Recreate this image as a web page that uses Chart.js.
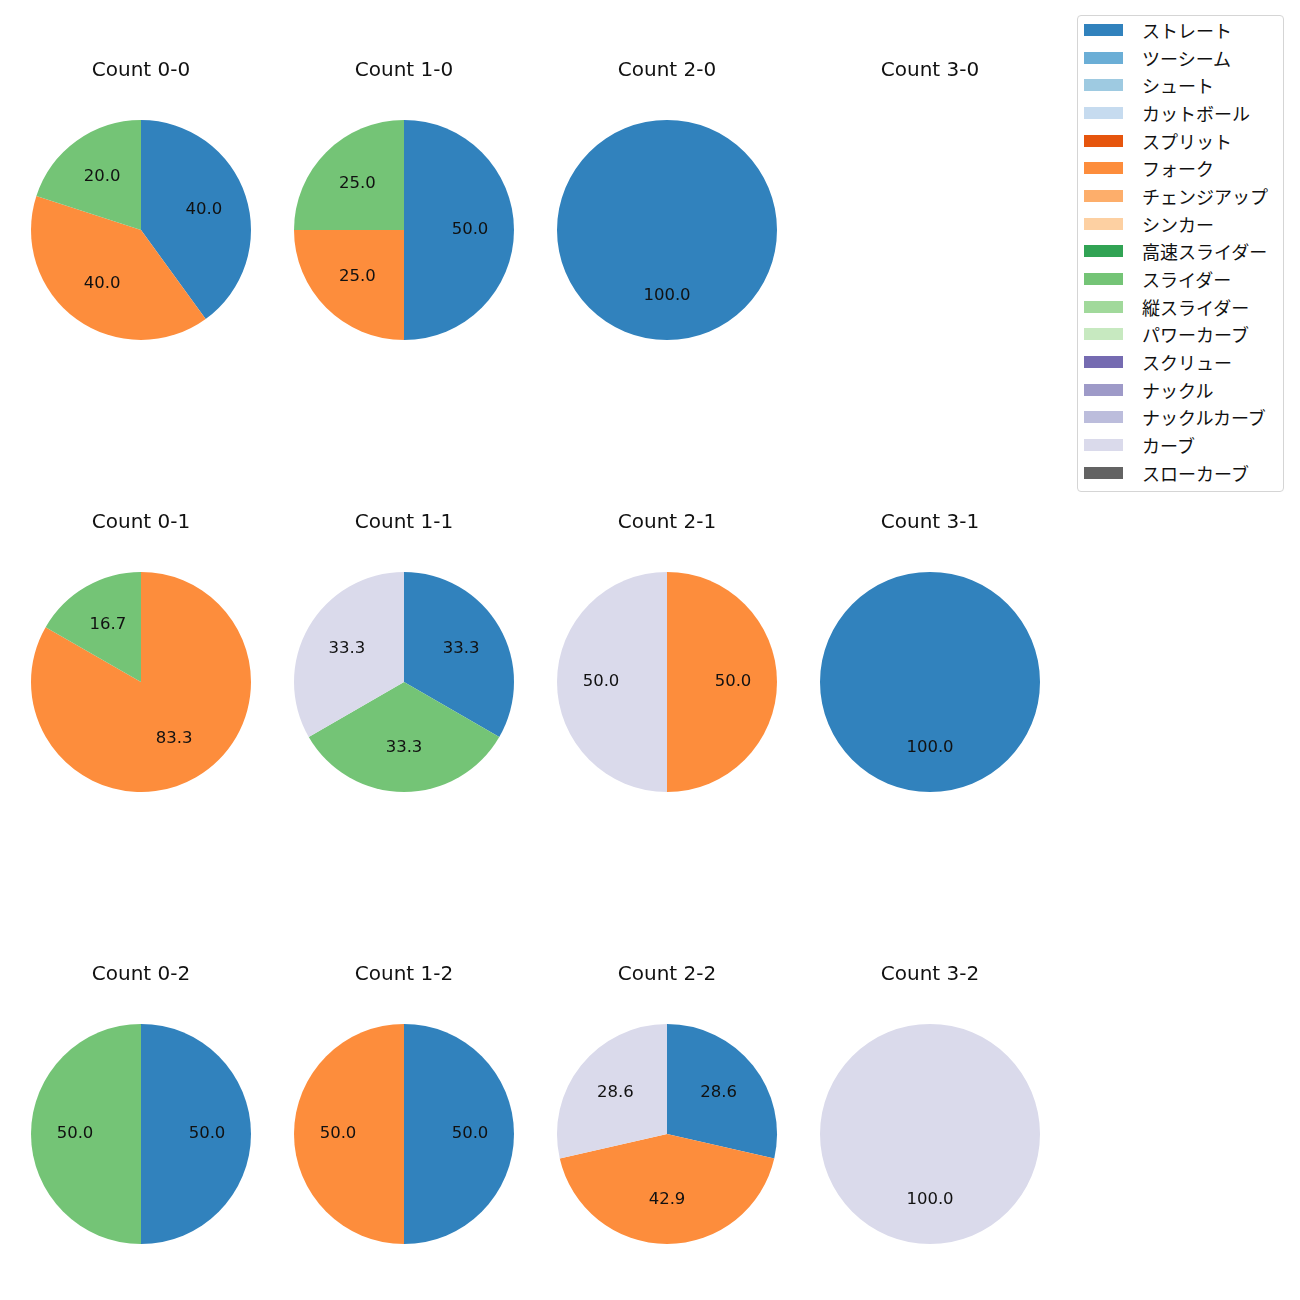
<!DOCTYPE html>
<html>
<head>
<meta charset="utf-8">
<script src="https://cdn.jsdelivr.net/npm/chart.js@4"></script>
<style>
    body { margin: 0; background: #fff; font-family: "Noto Sans CJK JP", sans-serif; }
    #page { position: relative; width: 1300px; height: 1300px; }
    canvas { position: absolute; }
    #legend {
        position: absolute; left: 1077px; top: 15px; width: 207px; height: 477px;
        border: 1px solid #d5d5d5; border-radius: 4px; box-sizing: border-box;
    }
    .row { height: 27.7px; display: flex; align-items: center; font-size: 18px; color: #111; }
    .sw { width: 39px; height: 12px; margin-left: 6px; margin-right: 19px; }
</style>
</head>
<body>
<div id="page"><div id="legend"></div></div>
<script>
const pitchTypes = ['ストレート', 'ツーシーム', 'シュート', 'カットボール', 'スプリット', 'フォーク', 'チェンジアップ', 'シンカー',
    '高速スライダー', 'スライダー', '縦スライダー', 'パワーカーブ', 'スクリュー', 'ナックル', 'ナックルカーブ', 'カーブ', 'スローカーブ'];
const pitchColors = ['#3182bd', '#6baed6', '#9ecae1', '#c6dbef', '#e6550d', '#fd8d3c', '#fdae6b', '#fdd0a2',
    '#31a354', '#74c476', '#a1d99b', '#c7e9c0', '#756bb1', '#9e9ac8', '#bcbddc', '#dadaeb', '#636363'];

// percentages per pitch type, same order as pitchTypes
const count00 = [40, 0, 0, 0, 0, 40, 0, 0, 0, 20, 0, 0, 0, 0, 0, 0, 0];
const count10 = [50, 0, 0, 0, 0, 25, 0, 0, 0, 25, 0, 0, 0, 0, 0, 0, 0];
const count20 = [100, 0, 0, 0, 0, 0, 0, 0, 0, 0, 0, 0, 0, 0, 0, 0, 0];
const count30 = [0, 0, 0, 0, 0, 0, 0, 0, 0, 0, 0, 0, 0, 0, 0, 0, 0];
const count01 = [0, 0, 0, 0, 0, 83.3, 0, 0, 0, 16.7, 0, 0, 0, 0, 0, 0, 0];
const count11 = [33.3, 0, 0, 0, 0, 0, 0, 0, 0, 33.3, 0, 0, 0, 0, 0, 33.3, 0];
const count21 = [0, 0, 0, 0, 0, 50, 0, 0, 0, 0, 0, 0, 0, 0, 0, 50, 0];
const count31 = [100, 0, 0, 0, 0, 0, 0, 0, 0, 0, 0, 0, 0, 0, 0, 0, 0];
const count02 = [50, 0, 0, 0, 0, 0, 0, 0, 0, 50, 0, 0, 0, 0, 0, 0, 0];
const count12 = [50, 0, 0, 0, 0, 50, 0, 0, 0, 0, 0, 0, 0, 0, 0, 0, 0];
const count22 = [28.6, 0, 0, 0, 0, 42.9, 0, 0, 0, 0, 0, 0, 0, 0, 0, 28.6, 0];
const count32 = [0, 0, 0, 0, 0, 0, 0, 0, 0, 0, 0, 0, 0, 0, 0, 100, 0];

const pies = [
    ['Count 0-0', count00], ['Count 1-0', count10], ['Count 2-0', count20], ['Count 3-0', count30],
    ['Count 0-1', count01], ['Count 1-1', count11], ['Count 2-1', count21], ['Count 3-1', count31],
    ['Count 0-2', count02], ['Count 1-2', count12], ['Count 2-2', count22], ['Count 3-2', count32]
];

const colX = [141, 404, 667, 930];
const rowTop = [58, 510, 962];

// value labels at 0.6 of the radius, like matplotlib autopct
const pctLabels = {
    id: 'pctLabels',
    afterDatasetsDraw(chart) {
        const ctx = chart.ctx;
        const meta = chart.getDatasetMeta(0);
        const values = chart.data.datasets[0].data;
        ctx.save();
        ctx.font = '16.5px "DejaVu Sans"';
        ctx.fillStyle = '#111';
        ctx.textAlign = 'center';
        ctx.textBaseline = 'middle';
        meta.data.forEach(function (arc, i) {
            if (!values[i]) return;
            const p = arc.getProps(['x', 'y', 'startAngle', 'endAngle', 'outerRadius'], true);
            const mid = (p.startAngle + p.endAngle) / 2;
            const r = p.outerRadius * 0.6;
            ctx.fillText(values[i].toFixed(1), p.x + Math.cos(mid) * r, p.y + Math.sin(mid) * r);
        });
        ctx.restore();
    }
};

const page = document.getElementById('page');
pies.forEach(function (pie, n) {
    const canvas = document.createElement('canvas');
    canvas.width = 250;
    canvas.height = 282;
    canvas.style.left = (colX[n % 4] - 125) + 'px';
    canvas.style.top = rowTop[Math.floor(n / 4)] + 'px';
    page.appendChild(canvas);

    new Chart(canvas.getContext('2d'), {
        type: 'pie',
        data: {
            labels: pitchTypes,
            datasets: [{
                data: pie[1],
                backgroundColor: pitchColors,
                borderWidth: 0
            }]
        },
        options: {
            responsive: false,
            animation: false,
            devicePixelRatio: 1,
            plugins: {
                legend: { display: false },
                tooltip: { enabled: false },
                title: {
                    display: true,
                    text: pie[0],
                    color: '#111',
                    font: { family: 'DejaVu Sans', size: 20, weight: 'normal', lineHeight: 1.2 },
                    padding: { top: 1, bottom: 37 }
                }
            }
        },
        plugins: [pctLabels]
    });
});

const legend = document.getElementById('legend');
pitchTypes.forEach(function (name, i) {
    const row = document.createElement('div');
    row.className = 'row';
    row.innerHTML = '<span class="sw" style="background:' + pitchColors[i] + '"></span><span>' + name + '</span>';
    legend.appendChild(row);
});
</script>
</body>
</html>
